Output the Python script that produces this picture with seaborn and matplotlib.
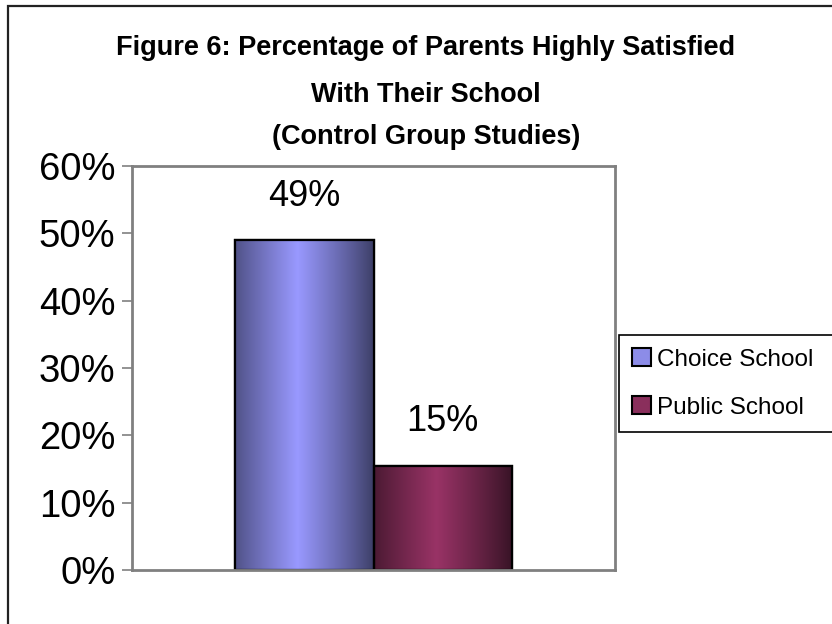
import numpy as np
import pandas as pd
import matplotlib
matplotlib.use("Agg")
import matplotlib.pyplot as plt
import seaborn as sns
from matplotlib import font_manager
from matplotlib.patches import Patch, Rectangle
from matplotlib.ticker import PercentFormatter
from matplotlib.colors import to_rgb

# ---- data ----
categories = ["Control Group Studies"]
series = ["Choice School", "Public School"]
values = [0.49, 0.155]
value_labels = ["49%", "15%"]
y_ticks = [0.0, 0.1, 0.2, 0.3, 0.4, 0.5, 0.6]
title_lines = ["Figure 6: Percentage of Parents Highly Satisfied",
               "With Their School",
               "(Control Group Studies)"]

light_cols = ["#9999ff", "#993366"]
dark_cols = ["#3c3e66", "#361325"]

sns.set_theme(style="white")
names = {f.name for f in font_manager.fontManager.ttflist}
narrow = "Liberation Sans Narrow" if "Liberation Sans Narrow" in names else "Liberation Sans"
plt.rcParams["font.family"] = ["Liberation Sans", "DejaVu Sans"]
plt.rcParams["text.color"] = "black"
plt.rcParams["ytick.labelcolor"] = "black"

df = pd.DataFrame({"cat": categories * len(series), "series": series, "value": values})

fig = plt.figure(figsize=(8.32, 6.24), dpi=100)
ax = fig.add_axes([132/832, 1-570/624, (615-132)/832, (570-166)/624])

sns.barplot(data=df, x="cat", y="value", hue="series", palette=light_cols,
            width=0.573, ax=ax, legend=False, edgecolor="black", linewidth=1.6,
            saturation=1)

ax.set_ylim(0, 0.6)
ax.set_yticks(y_ticks)
ax.yaxis.set_major_formatter(PercentFormatter(1.0, decimals=0))
ax.set_xticks([])
ax.set_xlabel("")
ax.set_ylabel("")
xl = ax.get_xlim()

# gradient fill for each bar
for i, cont in enumerate(ax.containers):
    for bar in cont:
        x0, w, h = bar.get_x(), bar.get_width(), bar.get_height()
        t = np.linspace(0, 1, 200)
        f = np.clip(1 - np.abs(t - 0.45) / 0.55, 0, 1) ** 0.9
        lc, dc = np.array(to_rgb(light_cols[i])), np.array(to_rgb(dark_cols[i]))
        img = dc[None, :] + (lc - dc)[None, :] * f[:, None]
        img = img[None, :, :]
        im = ax.imshow(img, extent=[x0, x0 + w, 0, h], aspect="auto", zorder=bar.get_zorder() + 0.1)
        im.set_clip_path(bar)
        ax.add_patch(Rectangle((x0, 0), w, h, fill=False, edgecolor="black",
                               linewidth=1.6, zorder=bar.get_zorder() + 0.2))
        ax.annotate(value_labels[i], (x0 + w/2, h), xytext=(0, 19), textcoords="offset points",
                    ha="center", va="bottom", fontsize=26, color="black")

ax.set_xlim(xl)
ax.set_ylim(0, 0.6)

for s in ax.spines.values():
    s.set_visible(True)
    s.set_color("#808080")
    s.set_linewidth(2.0)
ax.tick_params(axis="y", which="major", length=7, width=1.2, color="#808080",
               labelsize=27.5, pad=5, left=True, labelcolor="black")

# title
ys = [1-55/624, 1-102/624, 1-144/624]
for line, yy in zip(title_lines, ys):
    fig.text(426/832, yy, line, ha="center", va="baseline", fontsize=19.5,
             fontweight="bold", family=[narrow, "DejaVu Sans"], color="black")

# legend
handles = [Patch(facecolor=c, edgecolor="black", linewidth=1.5) for c in ["#8c8ce8", "#8a2f5c"]]
leg = fig.legend(handles, series, loc="upper left",
                 bbox_to_anchor=(619/832, 1-434/624, 0.3, 99/624), mode="expand",
                 frameon=True, fancybox=False, edgecolor="black", framealpha=1,
                 prop={"family": [narrow, "DejaVu Sans"], "size": 17.5},
                 handlelength=0.75, handleheight=0.75, handletextpad=0.25,
                 labelspacing=1.05, borderpad=0.55, borderaxespad=0)
leg.get_frame().set_linewidth(1.2)
for t in leg.get_texts():
    t.set_color("black")

# outer chart border
fig.patches.append(Rectangle((8/832, -0.2), 1.5, 1 - 6/624 + 0.2, transform=fig.transFigure,
                             fill=False, edgecolor="#222222", linewidth=1.6))

fig.savefig("out.png", dpi=100)
